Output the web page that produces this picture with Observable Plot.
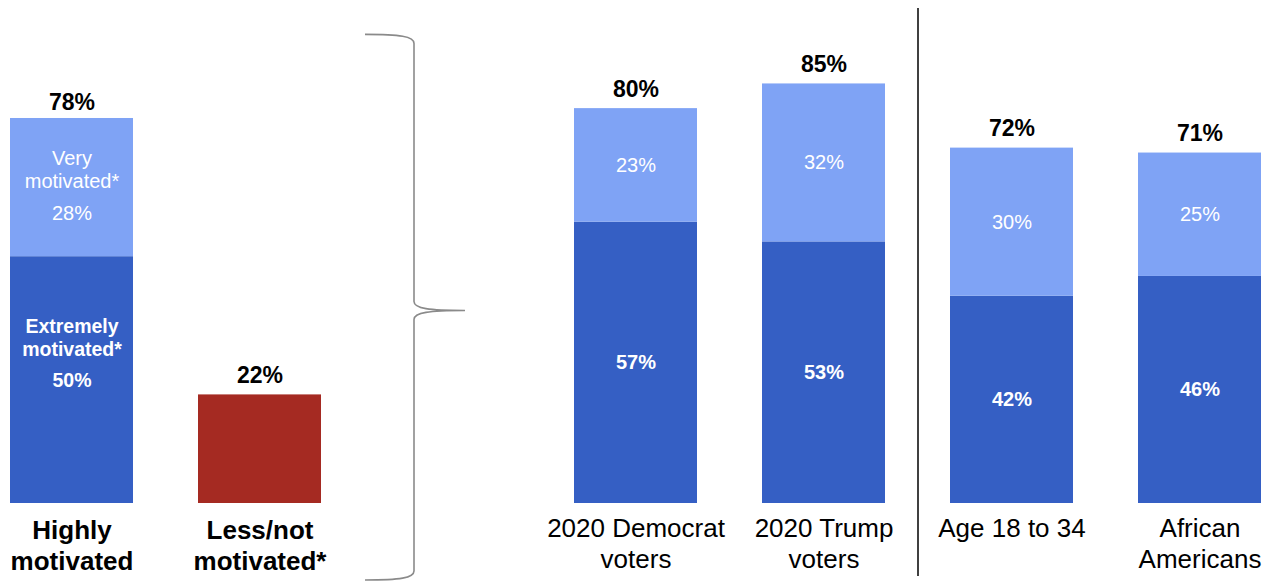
<!DOCTYPE html>
<html>
<head>
<meta charset="utf-8">
<script src="https://cdn.jsdelivr.net/npm/d3@7"></script>
<script src="https://cdn.jsdelivr.net/npm/@observablehq/plot@0.6"></script>
<style>
  html, body { margin: 0; padding: 0; background: #fff; }
  #chart svg { display: block; }
</style>
</head>
<body>
<div id="chart"></div>
<script>
// ---- data ----
const slots = ["highly", "less", "gap", "dem", "trump", "age", "afam"];
const groups = ["highly", "less", "dem", "trump", "age", "afam"];
const groupLabels = ["Highly\nmotivated", "Less/not\nmotivated*", "2020 Democrat\nvoters", "2020 Trump\nvoters", "Age 18 to 34", "African\nAmericans"];
const boldLabel = [true, true, false, false, false, false];
const extremely = [50, null, 57, 53, 42, 46];
const very = [28, null, 23, 32, 30, 25];
const lessMotivated = [null, 22, null, null, null, null];
const totals = [78, 22, 80, 85, 72, 71];
const segmentNames = ["Extremely", "Very", "Less"];
const segmentColors = ["#355fc4", "#7fa3f5", "#a52a22"];

// ---- derived tables ----
const segments = [];
groups.forEach((g, i) => {
  if (extremely[i] != null) segments.push({group: g, segment: "Extremely", value: extremely[i]});
  if (very[i] != null) segments.push({group: g, segment: "Very", value: very[i]});
  if (lessMotivated[i] != null) segments.push({group: g, segment: "Less", value: lessMotivated[i]});
});
const totalRows = groups.map((g, i) => ({group: g, total: totals[i]}));
const labelRows = groups.map((g, i) => ({group: g, label: groupLabels[i], bold: boldLabel[i]}));

const font = "'Liberation Sans', Arial, Helvetica, sans-serif";

function segLabel(textFn, opts) {
  return Plot.text(segments, Plot.stackY({
    x: "group", y: "value", z: "segment", text: textFn,
    fill: "white", fontSize: 20, ...opts
  }));
}

const totalStyle = {x: "group", y: "total", text: d => d.total + "%", lineAnchor: "bottom", fontSize: 23, fontWeight: "bold", fill: "black"};

const chart = Plot.plot({
  width: 1265,
  height: 584,
  marginTop: 0, marginRight: 0, marginBottom: 0, marginLeft: 0,
  style: {fontFamily: font, background: "white"},
  x: {domain: slots, range: [10, 1261], paddingInner: 0.346, paddingOuter: 0, axis: null},
  y: {domain: [0, 100], range: [503, 9.4], axis: null},
  color: {domain: segmentNames, range: segmentColors},
  marks: [
    Plot.rectY(segments, {x: "group", y: "value", z: "segment", fill: "segment"}),
    // inner percentages (non-highlighted groups)
    segLabel(d => d.group !== "highly" && d.segment === "Extremely" ? d.value + "%" : "", {fontWeight: "bold"}),
    segLabel(d => d.group !== "highly" && d.segment === "Very" ? d.value + "%" : "", {fontWeight: "normal"}),
    // "Highly motivated" bar breakdown
    segLabel(d => d.group === "highly" && d.segment === "Very" ? "Very\nmotivated*" : "", {dy: -18, lineHeight: 1.15}),
    segLabel(d => d.group === "highly" && d.segment === "Very" ? d.value + "%" : "", {dy: 26}),
    segLabel(d => d.group === "highly" && d.segment === "Extremely" ? "Extremely\nmotivated*" : "", {dy: -43, lineHeight: 1.2, fontWeight: "bold", fontSize: 19.5}),
    segLabel(d => d.group === "highly" && d.segment === "Extremely" ? d.value + "%" : "", {dy: 1, fontWeight: "bold", fontSize: 19.5}),
    // totals
    Plot.text(totalRows.filter(d => d.group === "highly"), {...totalStyle, dy: -8}),
    Plot.text(totalRows.filter(d => d.group !== "highly"), {...totalStyle, dy: -12}),
    // category labels
    Plot.text(labelRows.filter(d => d.bold), {x: "group", y: 0, text: "label", lineAnchor: "top", dy: 14, fontSize: 26, lineHeight: 1.19, fontWeight: "bold", fill: "black"}),
    Plot.text(labelRows.filter(d => !d.bold), {x: "group", y: 0, text: "label", lineAnchor: "top", dy: 12, fontSize: 26, lineHeight: 1.17, fill: "black"}),
    // divider between voter groups and demographic groups
    Plot.ruleX(["age"], {y1: -14.8, y2: 100.3, dx: -94, stroke: "black", strokeWidth: 1.5})
  ]
});

document.getElementById("chart").appendChild(chart);

// ---- curly brace annotation, positioned from the x/y scales ----
const xs = chart.scale("x"), ys = chart.scale("y");
const gx = xs.apply("gap");
const x0 = gx - 21, xb = gx + 28, xt = gx + 79;
const yTop = ys.apply(100) + 25, yBot = ys.apply(0) + 77, yMid = ys.apply(39.0);
const p = d3.path();
p.moveTo(x0, yTop);
p.bezierCurveTo(x0 + 35, yTop, xb, yTop + 2, xb, yTop + 9);
p.lineTo(xb, yMid - 9);
p.bezierCurveTo(xb, yMid - 2, xb + 15, yMid, xt, yMid);
p.bezierCurveTo(xb + 15, yMid, xb, yMid + 2, xb, yMid + 9);
p.lineTo(xb, yBot - 9);
p.bezierCurveTo(xb, yBot - 2, x0 + 35, yBot, x0, yBot);
d3.select(chart).append("path")
  .attr("d", p.toString())
  .attr("fill", "none")
  .attr("stroke", "#8a8a8a")
  .attr("stroke-width", 1.6);
</script>
</body>
</html>
